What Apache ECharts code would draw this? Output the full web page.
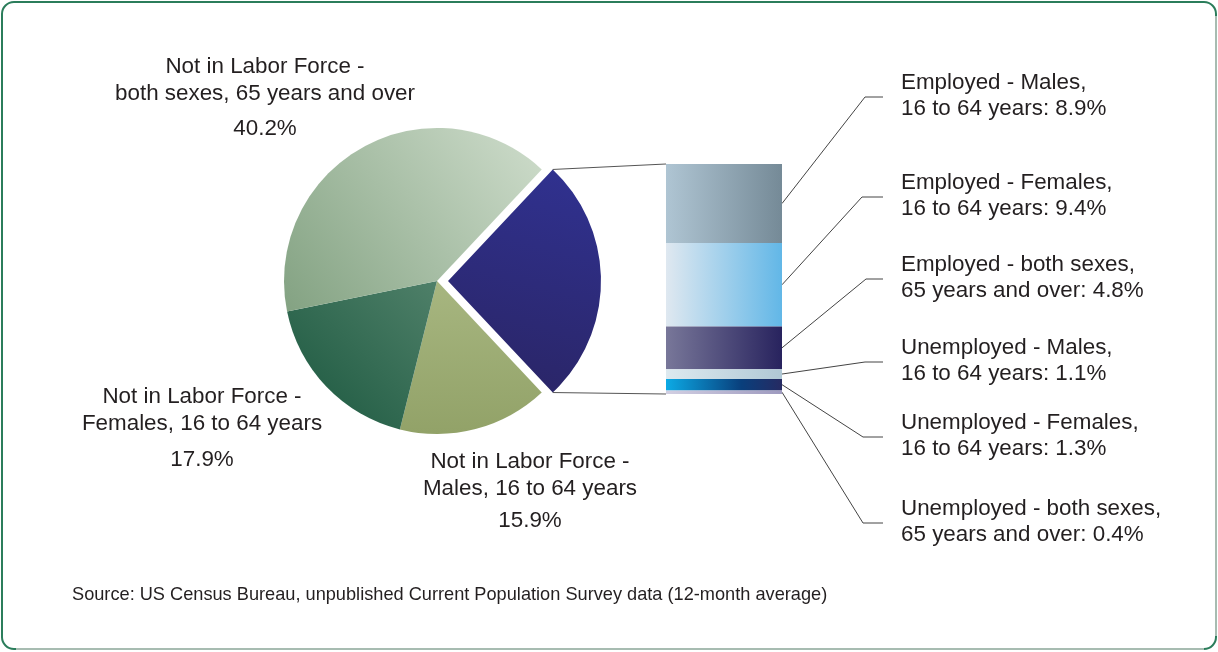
<!DOCTYPE html>
<html>
<head>
<meta charset="utf-8">
<script src="https://cdn.jsdelivr.net/npm/echarts@6/dist/echarts.min.js"></script>
<style>
  html, body { margin: 0; padding: 0; background: #ffffff; }
  #chart { width: 1218px; height: 652px; }
</style>
</head>
<body>
<div id="chart"></div>
<script>
// ---- Data -------------------------------------------------------------
// Pie: population split (percent), listed clockwise starting from the exploded slice
const pieKeys   = ['labor', 'nlfMales', 'nlfFemales', 'nlf65'];
const pieValues = [26.0, 15.9, 17.9, 40.2];
const pieLabels = [
  ['In the', 'Labor Force'],
  ['Not in Labor Force -', 'Males, 16 to 64 years'],
  ['Not in Labor Force -', 'Females, 16 to 64 years'],
  ['Not in Labor Force -', 'both sexes, 65 years and over']
];

// Bar: breakdown of the labour force (percent of total population), top to bottom
const barKeys   = ['empMales', 'empFemales', 'emp65', 'unempMales', 'unempFemales', 'unemp65'];
const barValues = [8.9, 9.4, 4.8, 1.1, 1.3, 0.4];
const barLabels = [
  ['Employed - Males,', '16 to 64 years: '],
  ['Employed - Females,', '16 to 64 years: '],
  ['Employed - both sexes,', '65 years and over: '],
  ['Unemployed - Males,', '16 to 64 years: '],
  ['Unemployed - Females,', '16 to 64 years: '],
  ['Unemployed - both sexes,', '65 years and over: ']
];

const sourceNote = 'Source: US Census Bureau, unpublished Current Population Survey data (12-month average)';

// ---- Styling ----------------------------------------------------------
const FONT = '"Liberation Sans", Arial, sans-serif';
const TEXT = '#231f20';
const G = echarts.graphic.LinearGradient;

const pieColors = {
  labor:      new G(0.7, 0, 0.3, 1, [{offset: 0, color: '#30318f'}, {offset: 1, color: '#2a2566'}]),
  nlfMales:   new G(0.5, 0, 0.5, 1, [{offset: 0, color: '#a7b680'}, {offset: 1, color: '#92a268'}]),
  nlfFemales: new G(1, 0, 0, 1, [{offset: 0, color: '#4f8069'}, {offset: 1, color: '#1a573e'}]),
  nlf65:      new G(1, 0, 0, 1, [{offset: 0, color: '#cfddcc'}, {offset: 1, color: '#83a282'}])
};

const barColors = {
  empMales:     new G(0, 0, 1, 0, [{offset: 0, color: '#afc5d3'}, {offset: 1, color: '#758a97'}]),
  empFemales:   new G(0, 0, 1, 0, [{offset: 0, color: '#dfe8f0'}, {offset: 1, color: '#62b7e7'}]),
  emp65:        new G(0, 0, 1, 0, [{offset: 0, color: '#787799'}, {offset: 1, color: '#28235e'}]),
  unempMales:   new G(0, 0, 1, 0, [{offset: 0, color: '#dde9ef'}, {offset: 1, color: '#b0c8d5'}]),
  unempFemales: new G(0, 0, 1, 0, [{offset: 0, color: '#0caae5'}, {offset: 0.65, color: '#093f7c'}, {offset: 1, color: '#262a62'}]),
  unemp65:      new G(0, 0, 1, 0, [{offset: 0, color: '#d2cfe2'}, {offset: 1, color: '#9e9abf'}])
};

// ---- Layout -----------------------------------------------------------
const PIE_CX = 437, PIE_CY = 281, PIE_R = 153, EXPLODE = 11;
const BAR_LEFT = 666, BAR_TOP = 164, BAR_W = 116, BAR_H = 230;

const pieTotal = pieValues.reduce((a, b) => a + b, 0);
const barTotal = barValues.reduce((a, b) => a + b, 0);
const halfSpan = pieValues[0] / pieTotal * 180;   // half of the exploded slice angle
const pct = v => v.toFixed(1) + '%';

const chart = echarts.init(document.getElementById('chart'), null, {renderer: 'canvas'});

// Main pie: the three "not in labour force" slices, exploded slice left empty
const pieMain = pieValues.map((v, i) => ({
  name: pieKeys[i],
  value: v,
  itemStyle: i === 0 ? {color: 'rgba(0,0,0,0)'} : {color: pieColors[pieKeys[i]]}
}));
// Exploded pie: only the labour force slice is visible
const pieOut = pieValues.map((v, i) => ({
  name: pieKeys[i],
  value: v,
  itemStyle: i === 0 ? {color: pieColors[pieKeys[i]]} : {color: 'rgba(0,0,0,0)'}
}));

const barSeries = barValues.map((v, i) => ({
  type: 'bar',
  name: barKeys[i],
  stack: 'labor',
  barWidth: '100%',
  data: [v],
  itemStyle: {color: barColors[barKeys[i]]},
  silent: true
}));

const pieCommon = {
  type: 'pie',
  radius: PIE_R,
  startAngle: halfSpan,
  clockwise: true,
  label: {show: false},
  labelLine: {show: false},
  silent: true,
  emphasis: {disabled: true}
};

chart.setOption({
  animation: false,
  backgroundColor: '#ffffff',
  grid: {left: BAR_LEFT, top: BAR_TOP, width: BAR_W, height: BAR_H, containLabel: false},
  xAxis: {type: 'category', data: ['labor'], show: false},
  yAxis: {type: 'value', min: 0, max: barTotal, inverse: true, show: false},
  series: [
    Object.assign({}, pieCommon, {center: [PIE_CX, PIE_CY], data: pieMain}),
    Object.assign({}, pieCommon, {center: [PIE_CX + EXPLODE, PIE_CY], data: pieOut})
  ].concat(barSeries)
});

// ---- Annotations ------------------------------------------------------
const graphics = [];
const txt = (text, x, y, opts) => Object.assign({
  type: 'text',
  silent: true,
  style: Object.assign({
    text: text, x: x, y: y,
    font: '22.4px ' + FONT,
    fill: TEXT,
    lineHeight: 27,
    textAlign: 'left', align: 'left',
    textVerticalAlign: 'middle', verticalAlign: 'middle'
  }, opts || {})
});

// frame
graphics.push({
  type: 'rect', silent: true,
  shape: {x: 2, y: 2, width: 1214, height: 647, r: 12},
  style: {fill: 'none', stroke: '#2b7d5b', lineWidth: 2}
});
graphics.push({
  type: 'polyline', silent: true,
  shape: {points: [[1216, 16], [1216, 636]]},
  style: {stroke: '#a7bcb1', lineWidth: 2, fill: 'none'}
});
graphics.push({
  type: 'polyline', silent: true,
  shape: {points: [[16, 649], [1204, 649]]},
  style: {stroke: '#a7bcb1', lineWidth: 2, fill: 'none'}
});

// connectors from the exploded slice to the bar
const rad = halfSpan * Math.PI / 180;
const tipX = PIE_CX + EXPLODE + PIE_R * Math.cos(rad);
const topY = PIE_CY - PIE_R * Math.sin(rad);
const botY = PIE_CY + PIE_R * Math.sin(rad);
const barTopPx = chart.convertToPixel({gridIndex: 0}, ['labor', 0]);
const barBotPx = chart.convertToPixel({gridIndex: 0}, ['labor', barTotal]);
graphics.push({
  type: 'line', silent: true,
  shape: {x1: tipX, y1: topY, x2: BAR_LEFT, y2: barTopPx[1]},
  style: {stroke: '#555555', lineWidth: 1}
});
graphics.push({
  type: 'line', silent: true,
  shape: {x1: tipX, y1: botY, x2: BAR_LEFT, y2: barBotPx[1]},
  style: {stroke: '#555555', lineWidth: 1}
});

// bar segment call-outs
const calloutY = [97, 197, 279, 362, 437, 523];
const elbowX = [865, 862, 866, 865, 863, 863];
let cum = 0;
barValues.forEach((v, i) => {
  const mid = chart.convertToPixel({gridIndex: 0}, ['labor', cum + v / 2]);
  cum += v;
  const x0 = BAR_LEFT + BAR_W;
  graphics.push({
    type: 'polyline', silent: true,
    shape: {points: [[x0, mid[1]], [elbowX[i], calloutY[i]], [883, calloutY[i]]]},
    style: {stroke: '#444444', lineWidth: 1, fill: 'none'}
  });
  graphics.push(txt(barLabels[i][0] + '\n' + barLabels[i][1] + pct(v), 901, calloutY[i] - 1, {lineHeight: 26}));
});

// pie labels
const pieLabelPos = {
  nlf65:      {x: 265, y: 80,  py: 129},
  nlfFemales: {x: 202, y: 410, py: 460},
  nlfMales:   {x: 530, y: 475, py: 521}
};
pieKeys.forEach((k, i) => {
  if (i === 0) return;
  const p = pieLabelPos[k];
  graphics.push(txt(pieLabels[i].join('\n'), p.x, p.y, {textAlign: 'center', align: 'center'}));
  graphics.push(txt(pct(pieValues[i]), p.x, p.py, {textAlign: 'center', align: 'center'}));
});
graphics.push(txt(pieLabels[0].concat([pct(pieValues[0])]).join('\n'), 536, 277,
  {textAlign: 'center', align: 'center', fill: '#ecebf3', lineHeight: 28.5}));

// source note
graphics.push(txt(sourceNote, 72, 595, {font: '18.2px ' + FONT}));

chart.setOption({graphic: graphics});
</script>
</body>
</html>
